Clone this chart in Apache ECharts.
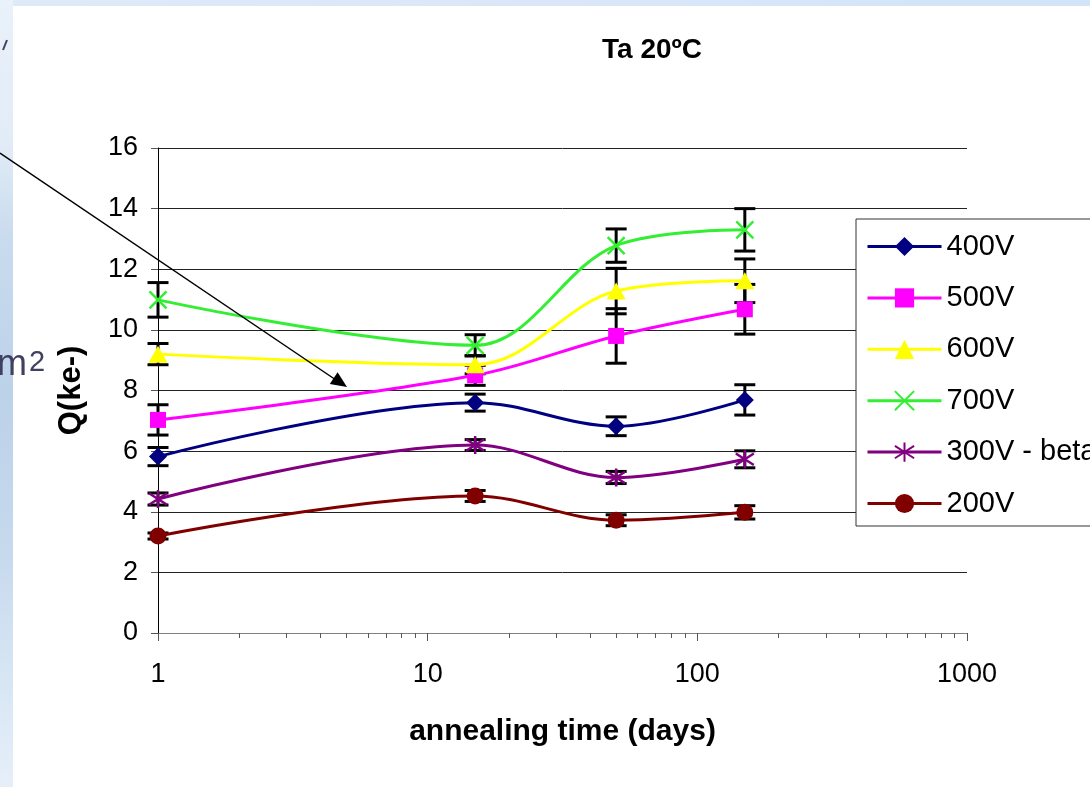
<!DOCTYPE html>
<html>
<head>
<meta charset="utf-8">
<script src="https://cdn.jsdelivr.net/npm/echarts@6/dist/echarts.min.js"></script>
<style>
  html, body { margin: 0; padding: 0; background: #fff; }
  #chart { width: 1090px; height: 787px; }
</style>
</head>
<body>
<div id="chart"></div>
<script>
var days = [1, 15, 50, 150];

var q400 = [5.82, 7.6, 6.82, 7.69];
var e400 = [0.3, 0.28, 0.31, 0.5];
var q500 = [7.03, 8.5, 9.8, 10.68];
var e500 = [0.5, 0.33, 0.9, 0.82];
var q600 = [9.2, 8.85, 11.28, 11.62];
var e600 = [0.35, 0.3, 0.75, 0.72];
var q700 = [10.99, 9.49, 12.78, 13.3];
var e700 = [0.57, 0.35, 0.55, 0.7];
var q300 = [4.42, 6.2, 5.13, 5.73];
var e300 = [0.2, 0.18, 0.2, 0.28];
var q200 = [3.2, 4.52, 3.72, 3.98];
var e200 = [0.1, 0.18, 0.18, 0.22];

var minorTicks = [2, 3, 4, 5, 6, 7, 8, 9, 20, 30, 40, 50, 60, 70, 80, 90, 200, 300, 400, 500, 600, 700, 800, 900];

var FONT = 'Liberation Sans, Arial, sans-serif';

var myChart = echarts.init(document.getElementById('chart'));

var pts = function (q) {
    return days.map(function (d, i) { return [d, q[i]]; });
};

// error bar rows: [x, low, high]
var errRows = [];
[[q400, e400], [q500, e500], [q600, e600], [q700, e700], [q300, e300], [q200, e200]].forEach(function (s) {
    days.forEach(function (d, i) {
        errRows.push([d, s[0][i] - s[1][i], s[0][i] + s[1][i]]);
    });
});

var renderErr = function (params, api) {
    var x = api.value(0);
    var top = api.coord([x, api.value(2)]);
    var bot = api.coord([x, api.value(1)]);
    var w = 10.5;
    var st = { stroke: '#000', lineWidth: 3 };
    return {
        type: 'group',
        children: [
            { type: 'line', shape: { x1: top[0], y1: top[1], x2: bot[0], y2: bot[1] }, style: st },
            { type: 'line', shape: { x1: top[0] - w, y1: top[1], x2: top[0] + w, y2: top[1] }, style: st },
            { type: 'line', shape: { x1: bot[0] - w, y1: bot[1], x2: bot[0] + w, y2: bot[1] }, style: st }
        ]
    };
};

var lineSeries = function (name, q, color, symbol, size, extra) {
    return {
        name: name,
        type: 'line',
        data: pts(q),
        smooth: 0.35,
        z: 3,
        symbol: symbol,
        symbolSize: size,
        lineStyle: { color: color, width: 3 },
        itemStyle: Object.assign({ color: color, borderColor: color, borderWidth: 0 }, extra || {})
    };
};

var option = {
    backgroundColor: '#fff',
    animation: false,
    title: {
        text: 'Ta 20ºC',
        left: 602,
        top: 36,
        padding: 0,
        textStyle: { fontFamily: FONT, fontSize: 28, fontWeight: 'bold', color: '#000' }
    },
    legend: {
        orient: 'vertical',
        left: 856,
        top: 219,
        padding: [13, 10, 8, 10],
        itemGap: 22.4,
        itemWidth: 74,
        itemHeight: 24,
        backgroundColor: '#fff',
        borderColor: '#333',
        borderWidth: 1,
        lineStyle: { width: 3 },
        textStyle: { fontFamily: FONT, fontSize: 29, color: '#000' },
        data: ['400V', '500V', '600V', '700V', '300V - beta', '200V']
    },
    grid: { left: 158, top: 148, width: 809, height: 485 },
    xAxis: [{
        type: 'log',
        logBase: 10,
        min: 1,
        max: 1000,
        name: 'annealing time (days)',
        nameLocation: 'middle',
        nameGap: 84,
        nameTextStyle: { fontFamily: FONT, fontSize: 30, fontWeight: 'bold', color: '#000' },
        axisLine: { show: true, lineStyle: { color: '#808080', width: 1 } },
        axisTick: { show: true, length: 8, lineStyle: { color: '#555' } },
        axisLabel: { fontFamily: FONT, fontSize: 27, color: '#000', margin: 28, formatter: function (v) { return String(v); } },
        splitLine: { show: false }
    }, {
        type: 'log',
        logBase: 10,
        min: 1,
        max: 1000,
        position: 'bottom',
        axisLine: { show: false },
        axisTick: { show: true, length: 5, customValues: minorTicks, lineStyle: { color: '#555' } },
        axisLabel: { show: false },
        splitLine: { show: false }
    }],
    yAxis: {
        type: 'value',
        min: 0,
        max: 16,
        interval: 2,
        name: 'Q(ke-)',
        nameLocation: 'middle',
        nameGap: 71,
        nameTextStyle: { fontFamily: FONT, fontSize: 31, fontWeight: 'bold', color: '#000' },
        axisLine: { show: true, lineStyle: { color: '#000', width: 1 } },
        axisTick: { show: true, length: 7, lineStyle: { color: '#555' } },
        axisLabel: { fontFamily: FONT, fontSize: 27, color: '#000', margin: 20 },
        splitLine: { show: true, lineStyle: { color: '#222', width: 1 } }
    },
    series: [
        {
            type: 'custom',
            renderItem: renderErr,
            data: errRows,
            encode: { x: 0, y: [1, 2] },
            z: 2,
            silent: true
        },
        lineSeries('400V', q400, '#000080', 'diamond', 18),
        lineSeries('500V', q500, '#ff00ff', 'rect', 16),
        lineSeries('600V', q600, '#ffff00', 'triangle', [19, 17]),
        lineSeries('700V', q700, '#33ee33', 'path://M0,0L10,10M10,0L0,10', 17, { borderWidth: 2.5 }),
        lineSeries('300V - beta', q300, '#800080', 'path://M5,0L5,10M0.5,1.8L9.5,8.2M0.5,8.2L9.5,1.8', 18, { borderWidth: 2.5 }),
        lineSeries('200V', q200, '#800000', 'circle', 17)
    ],
    graphic: [
        {
            type: 'rect', z: -10, silent: true,
            shape: { x: 0, y: 0, width: 1090, height: 6 },
            style: { fill: new echarts.graphic.LinearGradient(0, 0, 1, 0, [
                { offset: 0, color: '#dfeaf8' }, { offset: 1, color: '#d3e4f8' }
            ]) }
        },
        {
            type: 'rect', z: -10, silent: true,
            shape: { x: 0, y: 0, width: 13, height: 787 },
            style: { fill: new echarts.graphic.LinearGradient(0, 0, 0, 1, [
                { offset: 0, color: '#e9f1fa' },
                { offset: 0.18, color: '#e2ecf7' },
                { offset: 0.3, color: '#c9dbee' },
                { offset: 0.5, color: '#bcd2e9' },
                { offset: 0.7, color: '#c6d9ed' },
                { offset: 0.85, color: '#d6e5f3' },
                { offset: 1, color: '#e6eff9' }
            ]) }
        },
        {
            type: 'text', z: 10, silent: true, x: -3, y: 383,
            style: { text: 'm', fontFamily: FONT, fontSize: 36, fill: '#404060', textVerticalAlign: 'bottom' }
        },
        {
            type: 'text', z: 10, silent: true, x: 29, y: 377,
            style: { text: '2', fontFamily: FONT, fontSize: 29, fill: '#404060', textVerticalAlign: 'bottom' }
        },
        {
            type: 'line', z: 10, silent: true,
            shape: { x1: 7, y1: 40, x2: 3, y2: 50 },
            style: { stroke: '#404060', lineWidth: 2 }
        },
        {
            type: 'line', z: 20, silent: true,
            shape: { x1: 0, y1: 153, x2: 336, y2: 380 },
            style: { stroke: '#000', lineWidth: 1.5 }
        },
        {
            type: 'polygon', z: 20, silent: true,
            shape: { points: [[347, 387], [329.8, 383.9], [337.6, 372.3]] },
            style: { fill: '#000' }
        }
    ]
};

myChart.setOption(option);
</script>
</body>
</html>
